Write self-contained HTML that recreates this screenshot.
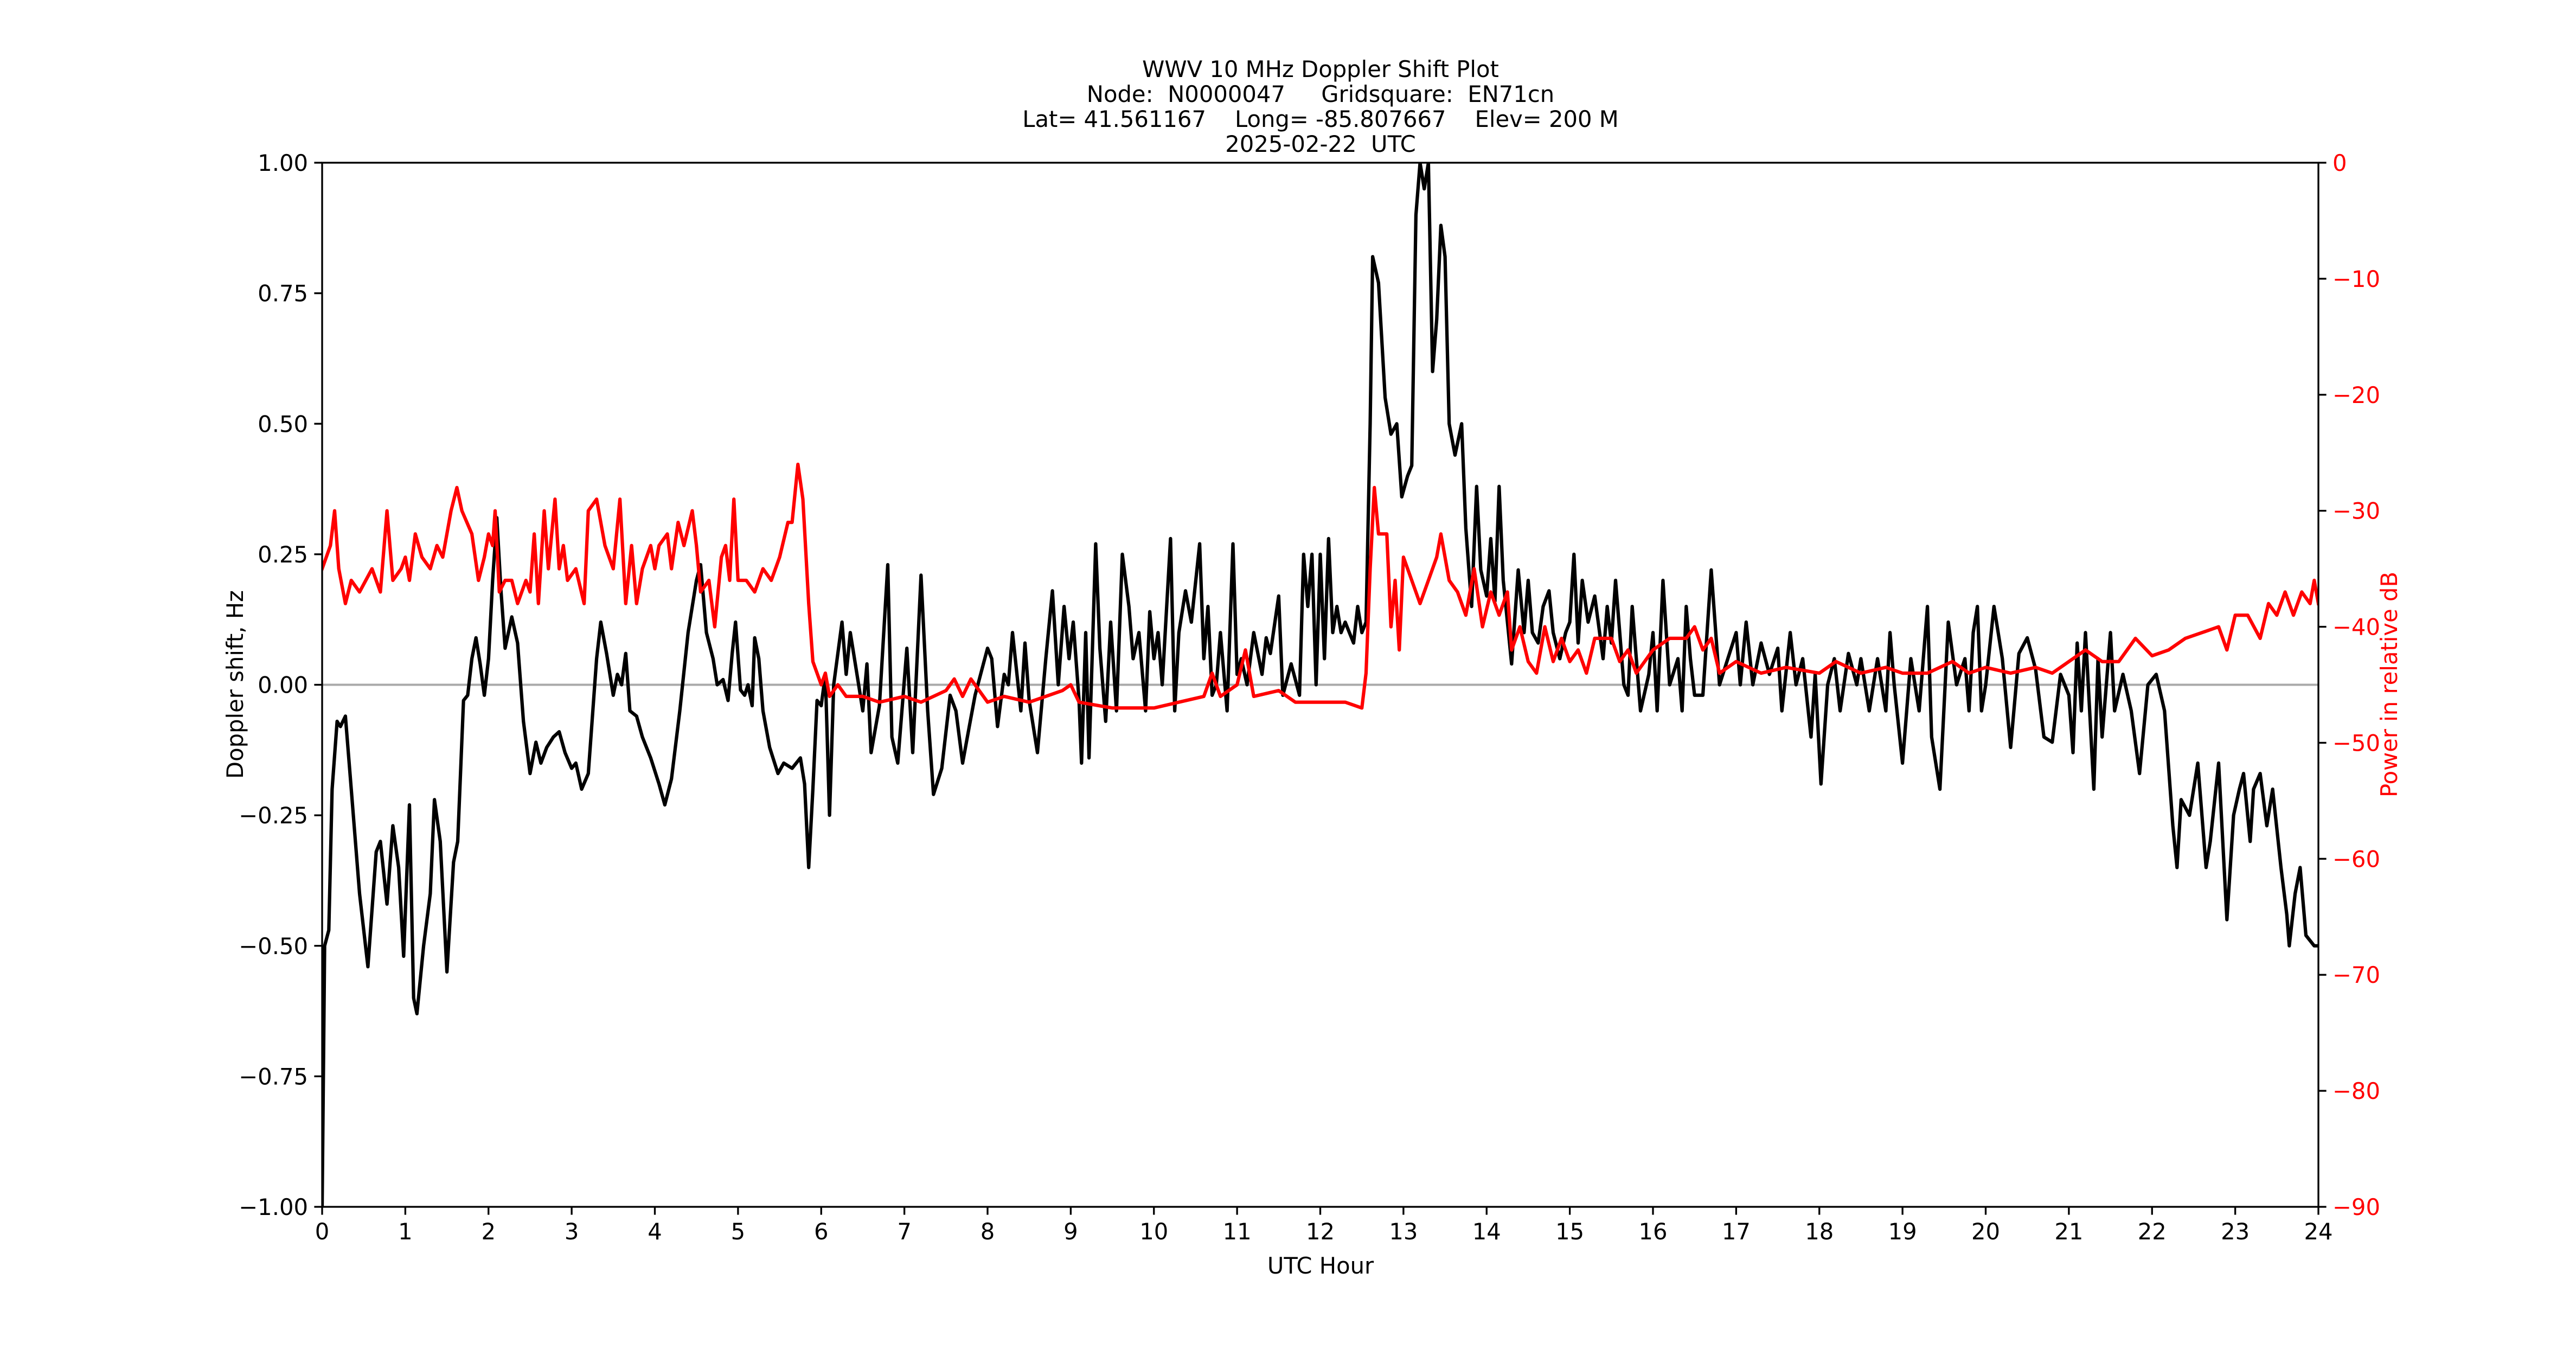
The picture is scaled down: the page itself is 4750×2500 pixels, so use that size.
<!DOCTYPE html>
<html><head><meta charset="utf-8"><style>html,body{margin:0;padding:0;background:#fff}svg{display:block}text{font-family:"DejaVu Sans","Liberation Sans",sans-serif;font-size:41.7px;white-space:pre}</style></head>
<body>
<svg id="s" xmlns="http://www.w3.org/2000/svg" width="4750" height="2500" viewBox="0 0 4750 2500">
<rect width="4750" height="2500" fill="#fff"/>
<g text-anchor="middle">
<text x="2435" y="142" xml:space="preserve">WWV 10 MHz Doppler Shift Plot</text>
<text x="2435" y="188" xml:space="preserve">Node:  N0000047     Gridsquare:  EN71cn</text>
<text x="2435" y="234" xml:space="preserve">Lat= 41.561167    Long= -85.807667    Elev= 200 M</text>
<text x="2435" y="280" xml:space="preserve">2025-02-22  UTC</text>
<text x="2435" y="2348">UTC Hour</text>
<text transform="translate(448,1262) rotate(-90)">Doppler shift, Hz</text>
<text transform="translate(4420,1262) rotate(-90)" fill="#f00">Power in relative dB</text>
</g>
<g id="g"></g>
</svg>
<script>
const L=594,R=4275,T=300,B=2225,W=R-L,H=B-T;
const X=h=>L+h/24*W, YD=v=>T+(1-v)/2*H, YP=v=>T+(-v)/90*H;
const dop=[0,-1,0.03,-0.5,0.08,-0.47,0.12,-0.2,0.18,-0.07,0.22,-0.08,0.28,-0.06,0.35,-0.2,0.45,-0.4,0.55,-0.54,0.65,-0.32,0.7,-0.3,0.78,-0.42,0.85,-0.27,0.92,-0.35,0.98,-0.52,1.05,-0.23,1.1,-0.6,1.14,-0.63,1.22,-0.5,1.3,-0.4,1.35,-0.22,1.42,-0.3,1.5,-0.55,1.58,-0.34,1.63,-0.3,1.7,-0.03,1.75,-0.02,1.8,0.05,1.85,0.09,1.9,0.04,1.95,-0.02,2.0,0.05,2.05,0.2,2.1,0.32,2.15,0.18,2.2,0.07,2.28,0.13,2.35,0.08,2.42,-0.07,2.5,-0.17,2.57,-0.11,2.63,-0.15,2.7,-0.12,2.78,-0.1,2.85,-0.09,2.92,-0.13,3.0,-0.16,3.05,-0.15,3.12,-0.2,3.2,-0.17,3.3,0.05,3.35,0.12,3.42,0.06,3.5,-0.02,3.55,0.02,3.6,0.0,3.65,0.06,3.7,-0.05,3.78,-0.06,3.85,-0.1,3.95,-0.14,4.05,-0.19,4.12,-0.23,4.2,-0.18,4.3,-0.05,4.4,0.1,4.5,0.2,4.55,0.23,4.62,0.1,4.7,0.05,4.75,0.0,4.82,0.01,4.88,-0.03,4.93,0.06,4.97,0.12,5.03,-0.01,5.08,-0.02,5.12,0.0,5.17,-0.04,5.2,0.09,5.25,0.05,5.3,-0.05,5.38,-0.12,5.48,-0.17,5.55,-0.15,5.65,-0.16,5.75,-0.14,5.8,-0.19,5.85,-0.35,5.9,-0.2,5.95,-0.03,6.0,-0.04,6.05,0.02,6.1,-0.25,6.15,0.0,6.25,0.12,6.3,0.02,6.35,0.1,6.45,0.0,6.5,-0.05,6.55,0.04,6.6,-0.13,6.7,-0.04,6.8,0.23,6.85,-0.1,6.92,-0.15,6.98,-0.03,7.03,0.07,7.1,-0.13,7.2,0.21,7.28,-0.05,7.35,-0.21,7.45,-0.16,7.55,-0.02,7.62,-0.05,7.7,-0.15,7.78,-0.08,7.85,-0.02,7.95,0.04,8.0,0.07,8.05,0.05,8.12,-0.08,8.2,0.02,8.25,0.0,8.3,0.1,8.4,-0.05,8.45,0.08,8.5,-0.03,8.6,-0.13,8.7,0.05,8.78,0.18,8.85,0.0,8.92,0.15,8.98,0.05,9.03,0.12,9.1,-0.03,9.13,-0.15,9.18,0.1,9.22,-0.14,9.3,0.27,9.35,0.07,9.42,-0.07,9.48,0.12,9.55,-0.05,9.62,0.25,9.7,0.15,9.75,0.05,9.82,0.1,9.9,-0.05,9.95,0.14,10.0,0.05,10.05,0.1,10.1,0.0,10.2,0.28,10.25,-0.05,10.3,0.1,10.38,0.18,10.45,0.12,10.55,0.27,10.6,0.05,10.65,0.15,10.7,-0.02,10.75,0.0,10.8,0.1,10.88,-0.05,10.95,0.27,11.0,0.02,11.05,0.05,11.12,0.0,11.2,0.1,11.3,0.02,11.35,0.09,11.4,0.06,11.5,0.17,11.55,-0.02,11.65,0.04,11.75,-0.02,11.8,0.25,11.85,0.15,11.9,0.25,11.95,0.0,12.0,0.25,12.05,0.05,12.1,0.28,12.15,0.1,12.2,0.15,12.25,0.1,12.3,0.12,12.35,0.1,12.4,0.08,12.45,0.15,12.5,0.1,12.55,0.12,12.6,0.5,12.63,0.82,12.7,0.77,12.78,0.55,12.85,0.48,12.92,0.5,12.98,0.36,13.05,0.4,13.1,0.42,13.15,0.9,13.2,1.0,13.25,0.95,13.3,1.0,13.35,0.6,13.4,0.7,13.45,0.88,13.5,0.82,13.55,0.5,13.62,0.44,13.7,0.5,13.75,0.3,13.82,0.15,13.88,0.38,13.93,0.22,14.0,0.17,14.05,0.28,14.1,0.16,14.15,0.38,14.2,0.2,14.25,0.12,14.3,0.04,14.38,0.22,14.45,0.1,14.5,0.2,14.55,0.1,14.62,0.08,14.68,0.15,14.75,0.18,14.8,0.1,14.88,0.05,14.95,0.1,15.0,0.12,15.05,0.25,15.1,0.08,15.15,0.2,15.22,0.12,15.3,0.17,15.4,0.05,15.45,0.15,15.5,0.08,15.55,0.2,15.6,0.1,15.65,0.0,15.7,-0.02,15.75,0.15,15.8,0.05,15.85,-0.05,15.95,0.02,16.0,0.1,16.05,-0.05,16.12,0.2,16.2,0.0,16.3,0.05,16.35,-0.05,16.4,0.15,16.45,0.05,16.5,-0.02,16.6,-0.02,16.7,0.22,16.8,0.0,16.9,0.05,17.0,0.1,17.05,0.0,17.12,0.12,17.2,0.0,17.3,0.08,17.4,0.02,17.5,0.07,17.55,-0.05,17.65,0.1,17.72,0.0,17.8,0.05,17.9,-0.1,17.95,0.02,18.02,-0.19,18.1,0.0,18.18,0.05,18.25,-0.05,18.35,0.06,18.45,0.0,18.5,0.05,18.6,-0.05,18.7,0.05,18.8,-0.05,18.85,0.1,18.9,0.0,19.0,-0.15,19.1,0.05,19.2,-0.05,19.3,0.15,19.35,-0.1,19.45,-0.2,19.55,0.12,19.65,0.0,19.75,0.05,19.8,-0.05,19.85,0.1,19.9,0.15,19.95,-0.05,20.0,0.0,20.1,0.15,20.2,0.05,20.3,-0.12,20.4,0.06,20.5,0.09,20.6,0.03,20.7,-0.1,20.8,-0.11,20.9,0.02,21.0,-0.02,21.05,-0.13,21.1,0.08,21.15,-0.05,21.2,0.1,21.25,-0.05,21.3,-0.2,21.35,0.05,21.4,-0.1,21.5,0.1,21.55,-0.05,21.65,0.02,21.75,-0.05,21.85,-0.17,21.95,0.0,22.05,0.02,22.15,-0.05,22.25,-0.27,22.3,-0.35,22.35,-0.22,22.45,-0.25,22.55,-0.15,22.65,-0.35,22.7,-0.3,22.8,-0.15,22.9,-0.45,22.98,-0.25,23.05,-0.2,23.1,-0.17,23.18,-0.3,23.22,-0.2,23.3,-0.17,23.38,-0.27,23.45,-0.2,23.55,-0.35,23.62,-0.44,23.65,-0.5,23.72,-0.4,23.78,-0.35,23.85,-0.48,23.95,-0.5,24,-0.5];
const pw=[0,-35,0.1,-33,0.15,-30,0.2,-35,0.28,-38,0.35,-36,0.45,-37,0.6,-35,0.7,-37,0.78,-30,0.85,-36,0.95,-35,1.0,-34,1.05,-36,1.12,-32,1.2,-34,1.3,-35,1.38,-33,1.45,-34,1.55,-30,1.62,-28,1.68,-30,1.8,-32,1.88,-36,1.95,-34,2.0,-32,2.05,-33,2.08,-30,2.13,-37,2.2,-36,2.28,-36,2.35,-38,2.45,-36,2.5,-37,2.55,-32,2.6,-38,2.67,-30,2.72,-35,2.8,-29,2.85,-35,2.9,-33,2.95,-36,3.05,-35,3.15,-38,3.2,-30,3.3,-29,3.4,-33,3.5,-35,3.58,-29,3.65,-38,3.72,-33,3.78,-38,3.85,-35,3.95,-33,4.0,-35,4.05,-33,4.15,-32,4.2,-35,4.28,-31,4.35,-33,4.45,-30,4.5,-33,4.55,-37,4.65,-36,4.72,-40,4.8,-34,4.85,-33,4.9,-36,4.95,-29,5.0,-36,5.1,-36,5.2,-37,5.3,-35,5.4,-36,5.5,-34,5.6,-31,5.65,-31,5.72,-26,5.78,-29,5.85,-38,5.9,-43,6.0,-45,6.05,-44,6.1,-46,6.2,-45,6.3,-46,6.5,-46,6.7,-46.5,7.0,-46,7.2,-46.5,7.5,-45.5,7.6,-44.5,7.7,-46,7.8,-44.5,8.0,-46.5,8.2,-46,8.5,-46.5,8.9,-45.5,9.0,-45,9.1,-46.5,9.5,-47,10.0,-47,10.3,-46.5,10.6,-46,10.7,-44,10.8,-46,11.0,-45,11.1,-42,11.2,-46,11.5,-45.5,11.7,-46.5,12.0,-46.5,12.3,-46.5,12.5,-47,12.55,-44,12.6,-35,12.65,-28,12.7,-32,12.8,-32,12.85,-40,12.9,-36,12.95,-42,13.0,-34,13.1,-36,13.2,-38,13.3,-36,13.4,-34,13.45,-32,13.55,-36,13.65,-37,13.75,-39,13.85,-35,13.95,-40,14.05,-37,14.15,-39,14.25,-37,14.3,-42,14.4,-40,14.5,-43,14.6,-44,14.7,-40,14.8,-43,14.9,-41,15.0,-43,15.1,-42,15.2,-44,15.3,-41,15.5,-41,15.6,-43,15.7,-42,15.8,-44,16.0,-42,16.2,-41,16.4,-41,16.5,-40,16.6,-42,16.7,-41,16.8,-44,17.0,-43,17.3,-44,17.6,-43.5,18.0,-44,18.2,-43,18.5,-44,18.8,-43.5,19.0,-44,19.3,-44,19.6,-43,19.8,-44,20.0,-43.5,20.3,-44,20.6,-43.5,20.8,-44,21.0,-43,21.2,-42,21.4,-43,21.6,-43,21.8,-41,22.0,-42.5,22.2,-42,22.4,-41,22.6,-40.5,22.8,-40,22.9,-42,23.0,-39,23.15,-39,23.3,-41,23.4,-38,23.5,-39,23.6,-37,23.7,-39,23.8,-37,23.9,-38,23.95,-36,24.0,-38];
function path(a,fy){let d='';for(let i=0;i<a.length;i+=2)d+=(i?'L':'M')+X(a[i]).toFixed(1)+','+fy(a[i+1]).toFixed(1);return d;}
let s='';
s+=`<clipPath id="c"><rect x="${L}" y="${T}" width="${W}" height="${H}"/></clipPath>`;
s+=`<line x1="${L}" x2="${R}" y1="${YD(0)}" y2="${YD(0)}" stroke="#a9a9a9" stroke-width="4"/>`;
s+=`<g clip-path="url(#c)" fill="none" stroke-width="6.25" stroke-linejoin="round" stroke-linecap="square"><path d="${path(dop,YD)}" stroke="#000"/><path d="${path(pw,YP)}" stroke="#f00"/></g>`;
s+=`<rect x="${L}" y="${T}" width="${W}" height="${H}" fill="none" stroke="#000" stroke-width="3.33"/>`;
for(let h=0;h<=24;h++){const x=X(h);s+=`<line x1="${x}" x2="${x}" y1="${B}" y2="${B+14.6}" stroke="#000" stroke-width="3.33"/><text x="${x}" y="${B+60}" text-anchor="middle">${h}</text>`;}
for(let i=0;i<=8;i++){const v=-1+i*0.25,y=YD(v);const t=(v<0?'\u2212':'')+Math.abs(v).toFixed(2);s+=`<line x1="${L-14.6}" x2="${L}" y1="${y}" y2="${y}" stroke="#000" stroke-width="3.33"/><text x="${L-26}" y="${y+15}" text-anchor="end">${t}</text>`;}
for(let v=0;v>=-90;v-=10){const y=YP(v);const t=(v<0?'\u2212':'')+Math.abs(v);s+=`<line x1="${R}" x2="${R+14.6}" y1="${y}" y2="${y}" stroke="#000" stroke-width="3.33"/><text x="${R+26}" y="${y+15}" fill="#f00">${t}</text>`;}
document.getElementById('g').innerHTML=s;
</script>
</body></html>
